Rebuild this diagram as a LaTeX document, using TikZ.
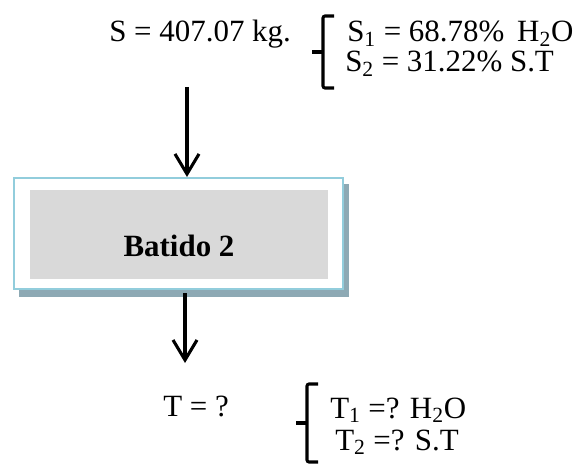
\documentclass[tikz,border=0pt]{standalone}
\usepackage{fontspec}
\setmainfont{Liberation Serif}
\usetikzlibrary{arrows.meta}
\definecolor{boxblue}{HTML}{92CDDC}
\definecolor{boxshadow}{HTML}{8DA9B4}
\definecolor{boxgray}{HTML}{D9D9D9}
\tikzset{
  lbl/.style={anchor=base west,inner sep=0pt,font=\fontsize{22}{26}\selectfont},
  flow/.style={line width=2.2pt,-{Straight Barb[length=0.5cm,width=0.6cm,line width=2.2pt]}},
  bracket/.style={line width=2.2pt,rounded corners=1.5pt}
}
\begin{document}
\begin{tikzpicture}[x=0.025cm,y=-0.025cm]
\useasboundingbox (0,0) rectangle (584,465);

% batido box
\fill[boxshadow] (19,184) rectangle (349,297);
\node[draw=boxblue,fill=white,line width=1.5pt,minimum width=329*0.025cm,minimum height=111*0.025cm,inner sep=0pt] (batido) at (178.5,233.5) {};
\fill[boxgray] (30,190) rectangle (328,279);
\node[anchor=base,inner sep=0pt,font=\fontsize{22}{26}\selectfont\bfseries] (name) at (179,257) {Batido 2};

% entrada
\node[lbl] (s) at (109,42) {S = 407.07 kg.};
\node[lbl] (s1) at (347,42) {S\textsubscript{1} = 68.78\% \,H\textsubscript{2}O};
\node[lbl] (s2) at (345,72) {S\textsubscript{2} = 31.22\% S.T};
\draw[bracket] (334,16) -- (323,16) -- (323,88) -- (334,88);
\draw[bracket] (323,52) -- (312,52);

% salida
\node[lbl] (t) at (163,416) {T = ?};
\node[lbl] (t1) at (330,418) {T\textsubscript{1} =? H\textsubscript{2}O};
\node[lbl] (t2) at (335,450) {T\textsubscript{2} =? S.T};
\draw[bracket] (318,384) -- (307,384) -- (307,462) -- (318,462);
\draw[bracket] (307,423) -- (296,423);

\coordinate (in) at (187,87);
\coordinate (outtop) at (185,293);
\coordinate (out) at (185,363);
\draw[flow] (in) -- (in |- batido.north);
\draw[flow] (outtop) -- (out);
\end{tikzpicture}
\end{document}
